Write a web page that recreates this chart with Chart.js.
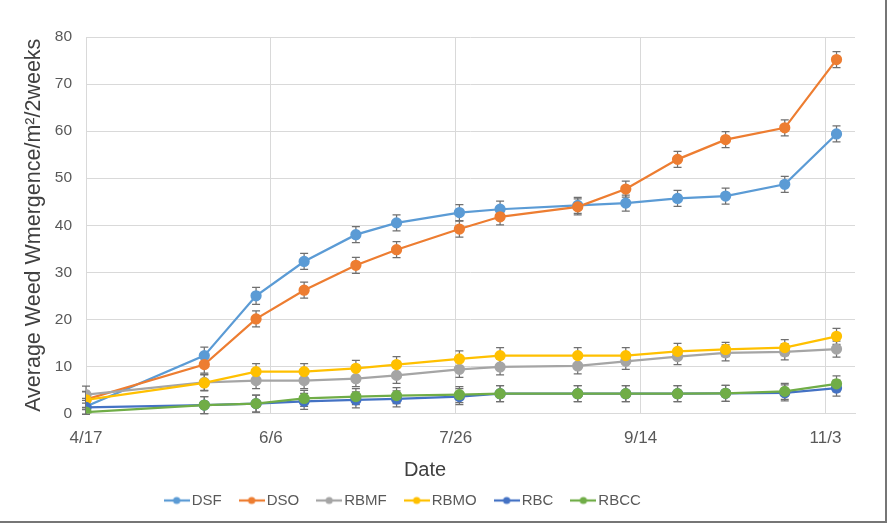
<!DOCTYPE html>
<html lang="en">
<head>
<meta charset="UTF-8">
<title>Weed emergence</title>
<script src="https://cdn.jsdelivr.net/npm/chart.js"></script>
<style>
    body { margin: 0; background: #fff; }
    .wrap { width: 891px; height: 527px; position: relative; }
</style>
</head>
<body>
<div class="wrap"><canvas id="weedChart"></canvas></div>
<script>
// sampling dates (month/day) and axis ticks
const dates = ['4/17', '5/19', '6/2', '6/15', '6/29', '7/10', '7/27', '8/7', '8/28', '9/10', '9/24', '10/7', '10/23', '11/6'];
const tickLabels = ['4/17', '6/6', '7/26', '9/14', '11/3'];
const axisEnd = '11/11';
const yTicks = [0, 10, 20, 30, 40, 50, 60, 70, 80];

const seriesNames = ['DSF', 'DSO', 'RBMF', 'RBMO', 'RBC', 'RBCC'];
const seriesColors = ['#5B9BD5', '#ED7D31', '#A5A5A5', '#FFC000', '#4472C4', '#70AD47'];

const dsf  = [1.5, 12.3, 25.0, 32.3, 38.0, 40.5, 42.7, 43.4, 44.2, 44.7, 45.7, 46.2, 48.7, 59.4];
const dso  = [3.0, 10.4, 20.1, 26.2, 31.5, 34.8, 39.2, 41.8, 43.9, 47.7, 54.0, 58.2, 60.7, 75.2];
const rbmf = [4.0, 6.6, 7.0, 7.0, 7.4, 8.1, 9.4, 9.9, 10.1, 11.1, 12.1, 12.9, 13.1, 13.7];
const rbmo = [2.9, 6.5, 8.9, 8.9, 9.6, 10.4, 11.6, 12.3, 12.3, 12.3, 13.2, 13.6, 14.0, 16.4];
const rbc  = [1.3, 1.8, 2.1, 2.6, 2.9, 3.1, 3.6, 4.2, 4.2, 4.2, 4.2, 4.3, 4.4, 5.4];
const rbcc = [0.3, 1.8, 2.1, 3.2, 3.6, 3.8, 4.0, 4.2, 4.2, 4.2, 4.2, 4.3, 4.7, 6.3];

// error bar half-lengths
const dsfErr  = [1.7, 1.8, 1.8, 1.7, 1.7, 1.7, 1.7, 1.7, 1.7, 1.7, 1.7, 1.7, 1.7, 1.7];
const dsoErr  = [1.7, 1.8, 1.7, 1.7, 1.7, 1.7, 1.7, 1.7, 1.7, 1.7, 1.7, 1.7, 1.7, 1.7];
const rbmfErr = [1.8, 1.7, 1.7, 1.7, 1.7, 1.7, 1.7, 1.7, 1.7, 1.7, 1.7, 1.7, 1.7, 1.7];
const rbmoErr = [1.7, 1.7, 1.7, 1.7, 1.7, 1.7, 1.7, 1.7, 1.7, 1.7, 1.7, 1.5, 1.7, 1.7];
const rbcErr  = [1.5, 1.8, 1.8, 1.7, 1.7, 1.7, 1.7, 1.7, 1.7, 1.7, 1.7, 1.7, 1.7, 1.7];
const rbccErr = [0.5, 1.8, 1.8, 1.7, 1.7, 1.7, 1.7, 1.7, 1.7, 1.7, 1.7, 1.7, 1.7, 1.7];

const yTitle = 'Average Weed Wmergence/m\u00B2/2weeks';
const xTitle = 'Date';

const allValues = [dsf, dso, rbmf, rbmo, rbc, rbcc];
const allErrors = [dsfErr, dsoErr, rbmfErr, rbmoErr, rbcErr, rbccErr];

function dayOf(md) {
    const [m, d] = md.split('/').map(Number);
    return Math.round((Date.UTC(2017, m - 1, d) - Date.UTC(2017, 3, 17)) / 86400000);
}

// little line-with-dot icon for the legend
function legendIcon(color) {
    const c = document.createElement('canvas');
    c.width = 26; c.height = 10;
    const g = c.getContext('2d');
    g.strokeStyle = color; g.lineWidth = 2.25;
    g.beginPath(); g.moveTo(0, 5); g.lineTo(26, 5); g.stroke();
    g.fillStyle = color;
    g.beginPath(); g.arc(13, 5, 3.6, 0, Math.PI * 2); g.fill();
    return c;
}

const datasets = seriesNames.map((name, i) => ({
    label: name,
    data: dates.map((d, j) => ({ x: dayOf(d), y: allValues[i][j] })),
    errors: allErrors[i],
    borderColor: seriesColors[i],
    backgroundColor: seriesColors[i],
    borderWidth: 2.25,
    pointRadius: 4.5,
    pointHoverRadius: 4.5,
    tension: 0,
    order: seriesNames.length - i
}));

const errorBars = {
    id: 'errorBars',
    beforeDatasetsDraw(chart) {
        const { ctx, scales: { x, y } } = chart;
        ctx.save();
        ctx.strokeStyle = '#707070';
        ctx.lineWidth = 1.25;
        chart.data.datasets.forEach(ds => {
            ds.data.forEach((p, j) => {
                const e = ds.errors[j];
                const px = x.getPixelForValue(p.x);
                const top = y.getPixelForValue(p.y + e);
                const bot = y.getPixelForValue(p.y - e);
                ctx.beginPath();
                ctx.moveTo(px, top); ctx.lineTo(px, bot);
                ctx.moveTo(px - 4, top); ctx.lineTo(px + 4, top);
                ctx.moveTo(px - 4, bot); ctx.lineTo(px + 4, bot);
                ctx.stroke();
            });
        });
        ctx.restore();
    }
};

const frame = {
    id: 'frame',
    afterLayout(chart) {
        // legend sits left of centre in the original
        chart.legend.left -= 33;
        chart.legend.right -= 33;
    },
    afterDraw(chart) {
        const ctx = chart.ctx;
        ctx.save();
        ctx.fillStyle = '#404040';
        ctx.font = '20px "Liberation Sans", Arial, sans-serif';
        ctx.textAlign = 'center';
        ctx.textBaseline = 'middle';
        ctx.fillText(xTitle, 425, 470);
        ctx.strokeStyle = '#767676';
        ctx.lineWidth = 2;
        ctx.beginPath();
        ctx.moveTo(886, 0); ctx.lineTo(886, 522); ctx.lineTo(0, 522);
        ctx.stroke();
        ctx.restore();
    }
};

Chart.defaults.font.family = '"Liberation Sans", Arial, sans-serif';
Chart.defaults.color = '#595959';

new Chart(document.getElementById('weedChart'), {
    type: 'line',
    data: { datasets },
    options: {
        responsive: true,
        maintainAspectRatio: false,
        animation: false,
        layout: { padding: { top: 37, right: 36, left: 21, bottom: 9 } },
        scales: {
            x: {
                type: 'linear',
                min: 0,
                max: dayOf(axisEnd),
                afterBuildTicks: s => { s.ticks = tickLabels.map(t => ({ value: dayOf(t) })); },
                afterFit: s => { s.height = 57; },
                grid: { color: '#d9d9d9', drawTicks: false },
                border: { color: '#d9d9d9' },
                ticks: {
                    padding: 15,
                    font: { size: 17 },
                    maxRotation: 0,
                    callback: (v, i) => tickLabels[i]
                }
            },
            y: {
                min: 0,
                max: 80,
                afterBuildTicks: s => { s.ticks = yTicks.map(v => ({ value: v })); },
                afterFit: s => { s.width = 65; },
                grid: { color: '#d9d9d9', drawTicks: false },
                border: { display: false },
                ticks: { padding: 14, font: { size: 15.5 } },
                title: {
                    display: true,
                    text: yTitle,
                    color: '#404040',
                    font: { size: 21.5 },
                    padding: { top: 0, bottom: 0 }
                }
            }
        },
        plugins: {
            legend: {
                position: 'bottom',
                labels: {
                    usePointStyle: true,
                    pointStyleWidth: 15,
                    padding: 22.5,
                    font: { size: 15 },
                    color: '#595959',
                    generateLabels: chart =>
                        Chart.defaults.plugins.legend.labels.generateLabels(chart)
                            .sort((a, b) => a.datasetIndex - b.datasetIndex)
                            .map(item => ({
                                ...item,
                                pointStyle: legendIcon(seriesColors[item.datasetIndex])
                            }))
                }
            },
            tooltip: { enabled: false }
        }
    },
    plugins: [errorBars, frame]
});
</script>
</body>
</html>
